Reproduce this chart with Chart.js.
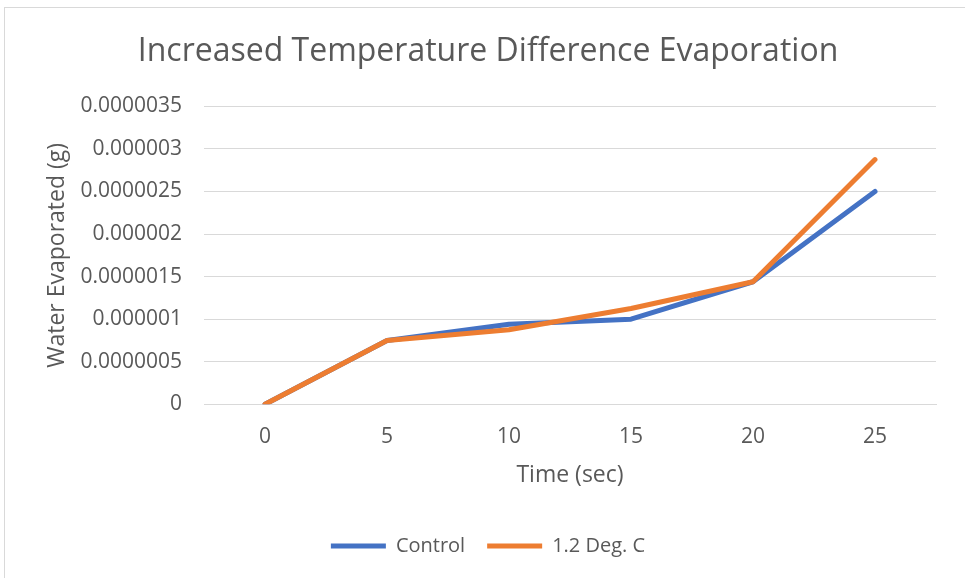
<!DOCTYPE html>
<html>
<head>
<meta charset="utf-8">
<script src="https://cdn.jsdelivr.net/npm/chart.js@4.4.1/dist/chart.umd.min.js"></script>
<style>
  html, body { margin: 0; padding: 0; background: #fff; }
  #frame { position: absolute; left: 4px; top: 7px; width: 962px; height: 580px; border: 1px solid #d9d9d9; box-sizing: border-box; }
  #wrap { position: absolute; left: 0; top: 0; width: 965px; height: 578px; }
</style>
</head>
<body>
<div id="frame"></div>
<div id="wrap"><canvas id="evap"></canvas></div>
<script>
let timeLabels = ['0', '5', '10', '15', '20', '25'];
let controlValues = [0, 0.00000075, 0.00000094, 0.000001, 0.00000144, 0.0000025];
let warmValues = [0, 0.00000075, 0.000000875, 0.000001125, 0.00000144, 0.000002875];
let seriesNames = ['Control', '1.2 Deg. C'];

let textColor = '#595959';
let fontFamily = "'Open Sans', sans-serif";

// tick values as plain decimals, no exponent and no trailing zeros
function formatTick(v){
  let s = Number(v).toFixed(7);
  s = s.replace(/0+$/, '').replace(/\.$/, '');
  return s;
}

new Chart('evap', {
  type: 'line',
  data: {
    labels: timeLabels,
    datasets: [{
      label: seriesNames[0],
      data: controlValues,
      order: 2,
      borderColor: '#4472c4',
      backgroundColor: '#4472c4',
      borderWidth: 5,
      borderCapStyle: 'round',
      borderJoinStyle: 'round',
      pointRadius: 0,
      tension: 0
    }, {
      label: seriesNames[1],
      data: warmValues,
      order: 1, // orange sits above the blue line
      borderColor: '#ed7d31',
      backgroundColor: '#ed7d31',
      borderWidth: 5,
      borderCapStyle: 'round',
      borderJoinStyle: 'round',
      pointRadius: 0,
      tension: 0
    }]
  },
  options: {
    responsive: true,
    maintainAspectRatio: false,
    animation: false,
    layout: { padding: { left: 40, right: 29, top: 0, bottom: 12 } },
    plugins: {
      title: {
        display: true,
        text: 'Increased Temperature Difference Evaporation',
        color: textColor,
        font: { family: fontFamily, size: 32, weight: 'normal' },
        padding: { top: 33, bottom: 35 }
      },
      legend: {
        display: true,
        position: 'bottom',
        labels: {
          usePointStyle: true,
          pointStyle: 'line',
          pointStyleWidth: 55,
          color: textColor,
          font: { family: fontFamily, size: 20 },
          padding: 22,
          sort: (a, b) => a.datasetIndex - b.datasetIndex
        }
      },
      tooltip: { enabled: false }
    },
    scales: {
      x: {
        offset: true,
        grid: { display: false, drawTicks: false },
        border: { display: true, color: '#d9d9d9', width: 1 },
        ticks: { color: textColor, font: { family: fontFamily, size: 21 }, padding: 20 },
        title: {
          display: true,
          text: 'Time (sec)',
          color: textColor,
          font: { family: fontFamily, size: 23, lineHeight: 0.5 },
          padding: { top: 0, bottom: 33 }
        }
      },
      y: {
        min: 0,
        max: 0.0000035,
        afterFit: function(axis){ axis.width = 164; },
        grid: { color: '#d9d9d9', lineWidth: 1, drawTicks: false },
        border: { display: false },
        ticks: {
          stepSize: 0.0000005,
          color: textColor,
          font: { family: fontFamily, size: 21 },
          padding: 22,
          callback: formatTick
        },
        title: {
          display: true,
          text: 'Water Evaporated (g)',
          color: textColor,
          font: { family: fontFamily, size: 23 },
          padding: { top: 4, bottom: 4 }
        }
      }
    }
  }
});
</script>
</body>
</html>
